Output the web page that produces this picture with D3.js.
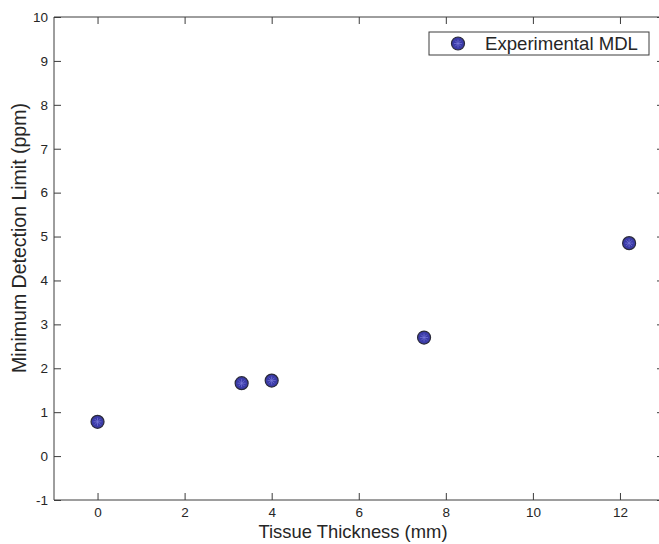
<!DOCTYPE html>
<html>
<head>
<meta charset="utf-8">
<script src="https://cdn.jsdelivr.net/npm/d3@7"></script>
<style>
  html, body { margin: 0; padding: 0; background: #fff; overflow: hidden; }
  svg { display: block; overflow: hidden; font-family: Arial, "Liberation Sans", sans-serif; }
</style>
</head>
<body>
<svg id="chart" width="659" height="544"></svg>
<script>
// Measured minimum detection limit versus tissue thickness
const thickness = [0, 3.31, 4.0, 7.5, 12.21];
const mdl = [0.78, 1.66, 1.72, 2.7, 4.85];
const xTicks = [0, 2, 4, 6, 8, 10, 12];
const yTicks = [-1, 0, 1, 2, 3, 4, 5, 6, 7, 8, 9, 10];
const seriesName = "Experimental MDL";
const xTitle = "Tissue Thickness (mm)";
const yTitle = "Minimum Detection Limit (ppm)";

const svg = d3.select("#chart");
const width = 659;
const box = { left: 54, right: 663.5, top: 17, bottom: 500 };
const axisColor = "#3c3c3c";
const textColor = "#262626";
const tickLen = 7;
const plain = d => String(d);

const x = d3.scaleLinear().domain([-1, 13]).range([box.left, box.right]);
const y = d3.scaleLinear().domain([-1, 10]).range([box.bottom, box.top]);

function styleAxis(g) {
  g.select(".domain").remove();
  g.selectAll("line").attr("stroke", axisColor).attr("stroke-width", 1);
  g.selectAll("text").attr("fill", textColor).attr("font-size", 13.5);
}

// bottom and left axes with labels, ticks pointing inward
svg.append("g")
  .attr("transform", `translate(0,${box.bottom})`)
  .call(d3.axisBottom(x).tickValues(xTicks).tickFormat(plain)
    .tickSizeInner(-tickLen).tickSizeOuter(0).tickPadding(7))
  .call(styleAxis);

svg.append("g")
  .attr("transform", `translate(${box.left},0)`)
  .call(d3.axisLeft(y).tickValues(yTicks).tickFormat(plain)
    .tickSizeInner(-tickLen).tickSizeOuter(0).tickPadding(6))
  .call(styleAxis);

// top and right axes: ticks only (right side sits at the page edge)
svg.append("g")
  .attr("transform", `translate(0,${box.top})`)
  .call(d3.axisTop(x).tickValues(xTicks).tickFormat("")
    .tickSizeInner(-tickLen).tickSizeOuter(0))
  .call(styleAxis);

svg.append("g")
  .attr("transform", `translate(${box.right},0)`)
  .call(d3.axisRight(y).tickValues(yTicks).tickFormat("")
    .tickSizeInner(-tickLen).tickSizeOuter(0))
  .call(styleAxis)
  .selectAll("line")
  .attr("x2", -(box.right - width) - 2);

// axes frame: top, left and bottom edges within the page
const edge = Math.min(box.right, width);
svg.append("path")
  .attr("d", `M${edge},${box.top}H${box.left}V${box.bottom}H${edge}`)
  .attr("fill", "none").attr("stroke", axisColor).attr("stroke-width", 1);

// axis titles
svg.append("text")
  .attr("x", 353).attr("y", 538)
  .attr("text-anchor", "middle")
  .attr("font-size", 18.4).attr("fill", textColor)
  .text(xTitle);

svg.append("text")
  .attr("transform", "translate(26,238) rotate(-90)")
  .attr("text-anchor", "middle")
  .attr("font-size", 19.5).attr("fill", textColor)
  .text(yTitle);

// marker: filled blue circle with a light asterisk inside
function marker(g) {
  g.append("circle").attr("r", 6.5)
    .attr("fill", "#3b3ba8").attr("stroke", "#2a2a3a").attr("stroke-width", 1.2);
  const r = 4;
  for (let k = 0; k < 4; k++) {
    const a = k * Math.PI / 4;
    g.append("line")
      .attr("x1", -r * Math.cos(a)).attr("y1", -r * Math.sin(a))
      .attr("x2", r * Math.cos(a)).attr("y2", r * Math.sin(a))
      .attr("stroke", "#7a7ad8").attr("stroke-width", 0.7);
  }
}

svg.append("g").selectAll("g.pt")
  .data(thickness.map((t, i) => ({ t, v: mdl[i] })))
  .join("g")
  .attr("class", "pt")
  .attr("transform", d => `translate(${x(d.t)},${y(d.v)})`)
  .each(function () { marker(d3.select(this)); });

// legend
const legend = svg.append("g");
legend.append("rect")
  .attr("x", 429).attr("y", 32).attr("width", 220).attr("height", 23)
  .attr("fill", "#fff").attr("stroke", axisColor).attr("stroke-width", 1);
legend.append("g").attr("transform", "translate(458,43.5)").call(marker);
legend.append("text")
  .attr("x", 485).attr("y", 50)
  .attr("font-size", 18.6).attr("fill", textColor)
  .text(seriesName);
</script>
</body>
</html>
